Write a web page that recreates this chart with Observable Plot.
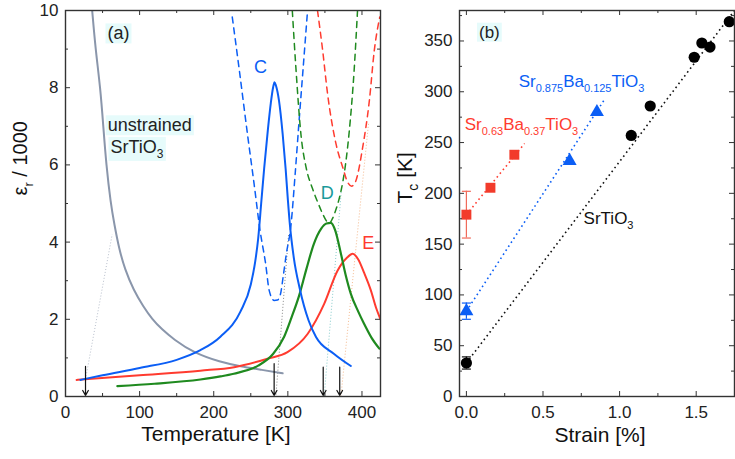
<!DOCTYPE html>
<html><head><meta charset="utf-8">
<script src="https://cdn.jsdelivr.net/npm/d3@7"></script>
<script src="https://cdn.jsdelivr.net/npm/@observablehq/plot@0.6"></script>
<style>
html,body{margin:0;padding:0;background:#fff;}
#wrap{position:relative;width:735px;height:459px;overflow:hidden;}
#wrap svg{position:absolute;top:0;}
</style></head><body><div id="wrap"></div>
<script>
// ---------- Panel (a): permittivity vs temperature ----------
const grayT = [36,40.5,47,51,55,61,66,72,80,92,105,117,130,146,173,209,236,265,293];
const grayE = [10,9,8,7,6,5,4.45,3.85,3.3,2.75,2.33,2.0,1.74,1.48,1.13,0.89,0.78,0.69,0.6];

const blueT = [20,50,100,150,182,209,236,250,256,260,264,268,273,277,280,282,284,288,293,297,300,303,308,316,328,338,362,385];
const blueE = [0.43,0.55,0.74,0.95,1.2,1.55,2.2,2.9,3.5,4.1,5.0,5.9,6.9,7.6,8.0,8.14,8.05,7.67,6.8,5.9,5.1,4.4,3.6,2.8,1.97,1.54,1.11,0.79];
const blueDashT = [225,234,245.5,254.5,262.5,270,274.8,281.5,286,290,294,298,304,310,315,321,326.6];
const blueDashE = [9.83,8.53,6.8,5.5,4.3,3.44,2.75,2.49,2.5,2.65,3.15,3.7,4.4,5.8,7.1,8.6,10];

const greenT = [70,120,182,209,227,260,280,295,305,315,325,335,345,352,358,364,371.6,378,385,395,403,413,423.4];
const greenE = [0.27,0.33,0.44,0.52,0.59,0.8,1.1,1.55,2.05,2.6,3.3,3.95,4.35,4.48,4.5,4.3,3.7,3.15,2.66,2.2,1.88,1.52,1.24];
const greenDashT = [306,310.8,317.6,325,333,341,347,352,356,360,365,372,377,383,389.6,394];
const greenDashE = [10,8.53,6.8,5.9,5.4,5.0,4.73,4.55,4.49,4.6,4.85,5.35,5.9,6.9,8.5,10];

const redT = [15,100,182,227.5,272.5,299.5,326.6,349,367,380,387.4,395,403,412,419,425];
const redE = [0.43,0.55,0.67,0.76,0.98,1.15,1.62,2.4,3.26,3.6,3.7,3.55,3.2,2.75,2.3,2.0];
const redDashT = [340,347,353.6,364.9,374,380.7,386,391,401,410,416.6,424];
const redDashE = [10,8.96,7.84,6.55,5.94,5.55,5.45,5.55,6.46,7.67,8.96,9.83];

const arrowT = [27,281.5,347.7,370];
const arrowTop = [0.78,0.85,0.76,0.76];
const arrowTip = [0.03,0.03,0.03,0.03];

const guideT1 = [27,284,349,371.6];
const guideE1 = [0.45,0.05,0,0];
const guideT2 = [63,301,372,409];
const guideE2 = [4.2,4.2,5.3,7.1];
const guideColor = ["#b8bfcc","#888888","#88cccc","#f5bb90"];

const tempTicks = [0,100,200,300,400];
const tempMinor = [50,150,250,350];
const epsTicks = [0,2,4,6,8,10];
const epsMinor = [1,3,5,7,9];

const labelsA = ["(a)","unstrained","SrTiO_{3}","C","D","E"];
const labelsAT = [71.5,57,60.7,263,353,408.5];
const labelsAE = [9.4,7.02,6.46,8.52,5.26,3.97];
const labelsAColor = ["#222","#222","#222","#0b5ef5","#1a9a9a","#ff3b2f"];
const labelsAAnchor = ["middle","start","start","middle","middle","middle"];

// ---------- Panel (b): Tc vs strain ----------
const stoStrain = [0,1.076,1.2,1.487,1.537,1.59,1.716];
const stoTc = [33,257,286,334,348,344,369];
const stoErr = [6,0,0,0,0,0,0];
const sbt125Strain = [0,0.674,0.852];
const sbt125Tc = [84,232,280];
const sbt125Err = [8,0,0];
const sbt37Strain = [0,0.157,0.313];
const sbt37Tc = [179,205.5,238];
const sbt37Err = [23,0,0];

const fitS1 = [0,0,0];          // start strain: STO, SBT125, SBT37
const fitT1 = [33,84,179];
const fitS2 = [1.75,0.9,0.38];
const fitT2 = [380,292,249];
const fitColor = ["#111","#0b5ef5","#ff3b2f"];

const strainTicks = [0,0.5,1.0,1.5];
const strainMinor = [0.25,0.75,1.25,1.75];
const tcTicks = [0,50,100,150,200,250,300,350];
const tcMinor = [25,75,125,175,225,275,325,375];

const labelsB = ["(b)","Sr_{0.875}Ba_{0.125}TiO_{3}","Sr_{0.63}Ba_{0.37}TiO_{3}","SrTiO_{3}"];
const labelsBS = [0.150,0.341,-0.011,0.765];
const labelsBT = [358.6,309.9,267.5,175];
const labelsBColor = ["#222","#0b5ef5","#ff3b2f","#111"];
const labelsBAnchor = ["middle","start","start","start"];

// ---------- layout ----------
const W1 = 400, W2 = 335, H = 459;
const mTop = 10, mBottom = 63;
const innerH = H - mTop - mBottom;
const ml1 = 65, mr1 = 20, innerW1 = W1 - ml1 - mr1;
const ml2 = 59, mr2 = 1, innerW2 = W2 - ml2 - mr2;
const FONT = "'Liberation Sans', Arial, Helvetica, sans-serif";
const AX = "#333";

const pts = (T, E) => T.map((t, i) => ({t, e: E[i]}));
const idx = n => d3.range(n);

function frameTicks(xMaj, xMin, yMaj, yMin, iw, ih) {
  const L = 5, l = 3;
  return [
    Plot.tickX(xMaj, {x: d => d, insetTop: ih - L, stroke: AX}),
    Plot.tickX(xMaj, {x: d => d, insetBottom: ih - L, stroke: AX}),
    Plot.tickX(xMin, {x: d => d, insetTop: ih - l, stroke: AX}),
    Plot.tickX(xMin, {x: d => d, insetBottom: ih - l, stroke: AX}),
    Plot.tickY(yMaj, {y: d => d, insetRight: iw - L, stroke: AX}),
    Plot.tickY(yMaj, {y: d => d, insetLeft: iw - L, stroke: AX}),
    Plot.tickY(yMin, {y: d => d, insetRight: iw - l, stroke: AX}),
    Plot.tickY(yMin, {y: d => d, insetLeft: iw - l, stroke: AX}),
    Plot.frame({stroke: AX, strokeWidth: 1.4})
  ];
}
function labelMarks(labels, X, Y, colors, anchors, fs) {
  return ["start", "middle"].map(a =>
    Plot.text(idx(labels.length).filter(i => anchors[i] === a), {
      x: i => X[i], y: i => Y[i], text: i => labels[i], fill: i => colors[i], textAnchor: a, fontSize: fs
    }));
}

const curve = "monotone-x";
const pA = Plot.plot({
  width: W1, height: H,
  marginLeft: ml1, marginRight: mr1, marginTop: mTop, marginBottom: mBottom,
  style: {fontFamily: FONT, fontSize: "17px", color: "#222", background: "transparent", overflow: "visible"},
  x: {domain: [0, 425]},
  y: {domain: [0, 10]},
  marks: [
    Plot.link(idx(guideT1.length), {x1: i => guideT1[i], y1: i => guideE1[i], x2: i => guideT2[i], y2: i => guideE2[i],
      stroke: i => guideColor[i], strokeWidth: 1, strokeDasharray: "1,2"}),
    Plot.line(pts(grayT, grayE), {x: "t", y: "e", stroke: "#8a96ab", strokeWidth: 2, curve: "basis", clip: true}),
    Plot.line(pts(blueDashT, blueDashE), {x: "t", y: "e", stroke: "#0b5ef5", strokeWidth: 1.5, strokeDasharray: "6,5", curve, clip: true}),
    Plot.line(pts(greenDashT, greenDashE), {x: "t", y: "e", stroke: "#1f8a1f", strokeWidth: 1.5, strokeDasharray: "6,5", curve, clip: true}),
    Plot.line(pts(redDashT, redDashE), {x: "t", y: "e", stroke: "#ff3b2f", strokeWidth: 1.5, strokeDasharray: "6,5", curve, clip: true}),
    Plot.line(pts(redT, redE), {x: "t", y: "e", stroke: "#ff3b2f", strokeWidth: 2, curve, clip: true}),
    Plot.line(pts(greenT, greenE), {x: "t", y: "e", stroke: "#1f8a1f", strokeWidth: 2.2, curve, clip: true}),
    Plot.line(pts(blueT, blueE), {x: "t", y: "e", stroke: "#0b5ef5", strokeWidth: 2, curve, clip: true}),
    Plot.arrow(idx(arrowT.length), {x1: i => arrowT[i], x2: i => arrowT[i], y1: i => arrowTop[i], y2: i => arrowTip[i],
      stroke: "#111", strokeWidth: 1.2, headLength: 7, bend: 0}),
    ...labelMarks(labelsA, labelsAT, labelsAE, labelsAColor, labelsAAnchor, 18),
    ...frameTicks(tempTicks, tempMinor, epsTicks, epsMinor, innerW1, innerH),
    Plot.axisX({ticks: tempTicks, tickSize: 0, tickPadding: 9, label: null, stroke: "none"}),
    Plot.axisY({ticks: epsTicks, tickSize: 0, tickPadding: 7, label: null, stroke: "none"}),
    Plot.text(["Temperature [K]"], {frameAnchor: "bottom", dy: 44, dx: -7, fontSize: 21, fill: "#111"}),
    Plot.text(["ε_{r} / 1000"], {frameAnchor: "left", dx: -45, dy: -8, rotate: -90, fontSize: 20, fill: "#111"})
  ]
});

const capSym = {draw(ctx) { ctx.moveTo(-4.5, 0); ctx.lineTo(4.5, 0); }};
function errRows(S, T, E, color) {
  return S.map((s, i) => ({s, lo: T[i] - E[i], hi: T[i] + E[i], c: color})).filter((d, i) => E[i] > 0);
}
const errs = [
  ...errRows(stoStrain, stoTc, stoErr, "#111"),
  ...errRows(sbt125Strain, sbt125Tc, sbt125Err, "#0b5ef5"),
  ...errRows(sbt37Strain, sbt37Tc, sbt37Err, "#f06a5a")
];

const pB = Plot.plot({
  width: W2, height: H,
  marginLeft: ml2, marginRight: mr2, marginTop: mTop, marginBottom: mBottom,
  style: {fontFamily: FONT, fontSize: "17px", color: "#222", background: "transparent", overflow: "visible"},
  x: {domain: [-0.045, 1.75]},
  y: {domain: [0, 380]},
  marks: [
    Plot.link(idx(fitS1.length), {x1: i => fitS1[i], y1: i => fitT1[i], x2: i => fitS2[i], y2: i => fitT2[i],
      stroke: i => fitColor[i], strokeWidth: 1.6, strokeDasharray: "1.6,3.2", clip: true}),
    Plot.ruleX(errs, {x: "s", y1: "lo", y2: "hi", stroke: "c", strokeWidth: 1.2}),
    Plot.dot(errs, {x: "s", y: "lo", symbol: capSym, stroke: "c", strokeWidth: 1.2, fill: "none"}),
    Plot.dot(errs, {x: "s", y: "hi", symbol: capSym, stroke: "c", strokeWidth: 1.2, fill: "none"}),
    Plot.dot(pts(sbt37Strain, sbt37Tc), {x: "t", y: "e", symbol: "square", r: 5.6, fill: "#f23b2b"}),
    Plot.dot(pts(sbt125Strain, sbt125Tc), {x: "t", y: "e", symbol: "triangle", r: 5.2, fill: "#0b5ef5"}),
    Plot.dot(pts(stoStrain, stoTc), {x: "t", y: "e", r: 5.6, fill: "#000"}),
    ...labelMarks(labelsB, labelsBS, labelsBT, labelsBColor, labelsBAnchor, 17),
    ...frameTicks(strainTicks, strainMinor, tcTicks, tcMinor, innerW2, innerH),
    Plot.axisX({ticks: strainTicks, tickSize: 0, tickPadding: 9, label: null, stroke: "none", tickFormat: d3.format(".1f")}),
    Plot.axisY({ticks: tcTicks, tickSize: 0, tickPadding: 7, label: null, stroke: "none"}),
    Plot.text(["Strain [%]"], {frameAnchor: "bottom", dy: 45, dx: 3, fontSize: 21, fill: "#111"}),
    Plot.text(["T_{c} [K]"], {frameAnchor: "left", dx: -54, dy: 0, rotate: -90, fontSize: 21, fill: "#111"})
  ]
});

const wrap = document.getElementById("wrap");
pA.style.left = "0px";
pB.style.left = W1 + "px";
wrap.appendChild(pA);
wrap.appendChild(pB);

const SVGNS = "http://www.w3.org/2000/svg";
function richText(svg) {
  svg.querySelectorAll("text").forEach(t => {
    const s = t.textContent;
    if (!s.includes("_{")) return;
    const fs = parseFloat(getComputedStyle(t).fontSize) || 17;
    const shift = Math.round(fs * 0.3);
    const parts = s.split(/(_\{[^}]*\})/).filter(p => p.length);
    while (t.firstChild) t.removeChild(t.firstChild);
    let down = false;
    parts.forEach(p => {
      const ts = document.createElementNS(SVGNS, "tspan");
      if (p.startsWith("_{")) {
        ts.textContent = p.slice(2, -1);
        ts.setAttribute("font-size", Math.round(fs * 0.66));
        if (!down) { ts.setAttribute("dy", shift); down = true; }
      } else {
        ts.textContent = p;
        if (down) { ts.setAttribute("dy", -shift); down = false; }
      }
      t.appendChild(ts);
    });
  });
}
function addBg(svg, list) {
  svg.querySelectorAll("text").forEach(t => {
    if (!list.includes(t.textContent)) return;
    const b = t.getBBox();
    const r = document.createElementNS(SVGNS, "rect");
    r.setAttribute("x", b.x - 2);
    r.setAttribute("y", b.y);
    r.setAttribute("width", b.width + 4);
    r.setAttribute("height", b.height);
    r.setAttribute("fill", "#e6fbfb");
    if (t.getAttribute("transform")) r.setAttribute("transform", t.getAttribute("transform"));
    t.parentNode.insertBefore(r, t);
  });
}
richText(pA);
richText(pB);
addBg(pA, ["(a)", "unstrained", "SrTiO3"]);
addBg(pB, ["(b)"]);
</script></body></html>
